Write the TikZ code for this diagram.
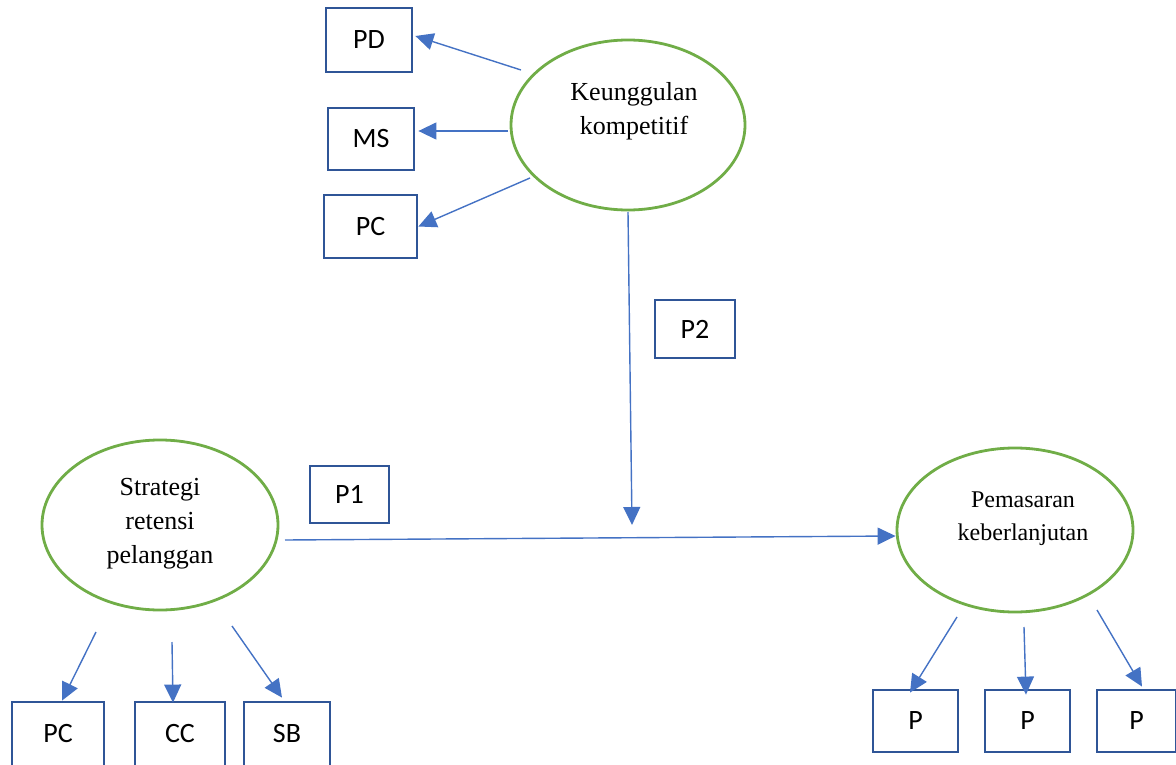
\documentclass[tikz,border=0pt]{standalone}
\usepackage{fontspec}
\setmainfont{Liberation Serif}
\newfontfamily\boxfont{Carlito}
\usetikzlibrary{arrows.meta,shapes.geometric,calc}
\definecolor{boxblue}{HTML}{2F5597}
\definecolor{arrblue}{HTML}{4472C4}
\definecolor{ellgreen}{HTML}{70AD47}
\tikzset{
  ind/.style={draw=boxblue,line width=2.8pt,fill=white,inner sep=0pt,font=\boxfont\fontsize{28}{32}\selectfont},
  lat/.style={draw=ellgreen,line width=2.8pt,ellipse,inner sep=0pt},
  lattext/.style={align=center,inner sep=0pt,font=\fontsize{26}{34}\selectfont},
  arr/.style={draw=arrblue,line width=1.4pt,-{Triangle[length=18pt,width=17pt]}}
}
\begin{document}
\begin{tikzpicture}[x=1pt,y=-1pt]
\useasboundingbox (0,0) rectangle (1176,765);
% latent variables
\node[lat,minimum width=234,minimum height=170] (K) at (628,125) {};
\node[lattext] (Kt) at (634,111) {Keunggulan\\kompetitif};
\node[lat,minimum width=236,minimum height=170] (S) at (160,525) {};
\node[lattext] (St) at (160,524) {Strategi\\retensi\\pelanggan};
\node[lat,minimum width=236,minimum height=164] (E) at (1015,530) {};
\node[lattext,font=\fontsize{24}{33}\selectfont] (Et) at (1023,519) {Pemasaran\\keberlanjutan};
% indicators
\node[ind,minimum width=86,minimum height=64] (PD) at (369,40) {PD};
\node[ind,minimum width=86,minimum height=62] (MS) at (371,139) {MS};
\node[ind,minimum width=93,minimum height=63] (PC1) at (370.5,226.5) {PC};
\node[ind,minimum width=80,minimum height=58] (P2) at (695,329) {P2};
\node[ind,minimum width=79,minimum height=57] (P1) at (349.5,494.5) {P1};
\node[ind,minimum width=92,minimum height=64] (PC2) at (58,734) {PC};
\node[ind,minimum width=90,minimum height=64] (CC) at (180,734) {CC};
\node[ind,minimum width=86,minimum height=64] (SB) at (287,734) {SB};
\node[ind,minimum width=85,minimum height=62] (Pa) at (915.5,721) {P};
\node[ind,minimum width=85,minimum height=62] (Pb) at (1027.5,721) {P};
\node[ind,minimum width=79,minimum height=62] (Pc) at (1136.5,721) {P};
% connector endpoints
\coordinate (k1) at (521,70);
\coordinate (k2) at (508,131);
\coordinate (k3) at (530,178);
\coordinate (k4) at (628,212);
\coordinate (m) at (632,525);
\coordinate (s0) at (285,540);
\coordinate (s1) at (96,632);
\coordinate (s2) at (172,642);
\coordinate (s3) at (232,626);
\coordinate (e1) at (957,617);
\coordinate (e2) at (1024,627);
\coordinate (e3) at (1097,610);
% arrows
\draw[arr] (k1) -- ($(PD.east)+(2,-4)$);
\draw[arr] (k2) -- ($(MS.east)+(3,-8)$);
\draw[arr] (k3) -- ($(PC1.east)+(0,0)$);
\draw[arr] (k4) -- (m);
\draw[arr] (s0) -- ($(E.west)+(0,6)$);
\draw[arr] (s1) -- ($(PC2.north)+(4,0)$);
\draw[arr] (s2) -- ($(CC.north)+(-7,2)$);
\draw[arr] (s3) -- ($(SB.north)+(-5,-3)$);
\draw[arr] (e1) -- ($(Pa.north)+(-5.5,4)$);
\draw[arr] (e2) -- ($(Pb.north)+(-1.5,6)$);
\draw[arr] (e3) -- ($(Pc.north)+(5.5,-2)$);
\end{tikzpicture}
\end{document}
